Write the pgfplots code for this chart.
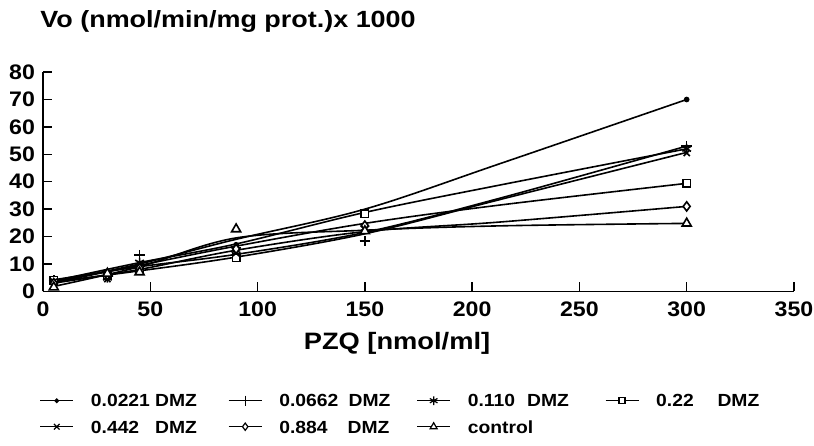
\documentclass[border=0pt]{standalone}
\usepackage{pgfplots}
\pgfplotsset{compat=1.18}
\usepackage{fontspec}
\setmainfont{Liberation Sans}[FakeStretch=1.1]
\newfontfamily\fB{Liberation Sans}[FakeStretch=1.15]
\begin{document}
\begin{tikzpicture}
\begin{axis}[
  scale only axis, width=375pt, height=109.5pt,
  xmin=0, xmax=350, ymin=0, ymax=80,
  axis x line*=bottom, axis y line*=left,
  axis line style={line width=0.75pt, -},
  xtick={0,50,...,350}, ytick={0,10,...,80},
  tick align=inside,
  major tick length=4.5pt,
  tick style={black, line width=0.75pt},
  /pgf/number format/assume math mode=true,
  tick label style={font=\bfseries\fontsize{10.5}{12}\selectfont},
  xticklabel style={yshift=-1.5pt},
  yticklabel style={xshift=-0.5pt},
  clip=false,
  every axis plot/.append style={black, line width=0.8pt},
  legend columns=4,
  legend style={draw=none, fill=none, inner sep=0pt, at={(rel axis cs:-0.005,-0.468)}, anchor=north west,
    font=\bfseries\fontsize{8.76}{10}\selectfont,
    nodes={inner sep=0pt, text height=6.3pt, text depth=0pt},
    cells={anchor=west},
    row sep=6.7pt,
    /tikz/every odd column/.append style={column sep=8.5pt}},
  legend image code/.code={\draw[mark repeat=2,mark phase=2,#1] plot coordinates {(0pt,0pt) (8.25pt,0pt) (16.5pt,0pt)};},
]
% fitted curves
\addplot[smooth, tension=0.55, forget plot] coordinates {(5,3.5) (45,10) (90,19) (150,30) (213,46.6) (300,70)};
\addplot[smooth, tension=0.55, forget plot] coordinates {(5,4.2) (45,9) (90,13.5) (150,21.5) (213,34) (300,53)};
\addplot[smooth, tension=0.55, forget plot] coordinates {(5,3.8) (45,10.5) (90,17.3) (150,28.8) (213,38.8) (300,52)};
\addplot[smooth, tension=0.55, forget plot] coordinates {(5,3.2) (45,9.5) (90,16.5) (150,24.8) (213,31.5) (300,39.4)};
\addplot[smooth, tension=0.55, forget plot] coordinates {(5,3.5) (45,7.5) (90,12.5) (150,21) (213,33.5) (300,50.7)};
\addplot[smooth, tension=0.55, forget plot] coordinates {(5,3) (45,8) (90,15) (150,21.8) (213,25.3) (300,31)};
\addplot[smooth, tension=0.55, forget plot] coordinates {(5,1.8) (45,9) (90,19.5) (150,22.3) (213,23.9) (300,24.8)};
% data points
\addplot[only marks, mark=*, mark size=1pt, forget plot] coordinates {(5,4) (30,6) (45,10) (90,17) (150,29) (300,70)};
\addplot[only marks, mark=+, mark size=2.6pt, forget plot] coordinates {(5,4) (30,5.5) (45,13.2) (90,16) (150,18.3) (300,53)};
\addplot[only marks, mark=asterisk, mark size=2.5pt, forget plot] coordinates {(5,3.5) (30,5) (45,10.5) (90,15) (150,23) (300,52)};
\addplot[only marks, mark=square*, mark size=1.9pt, mark options={fill=white}, forget plot] coordinates {(5,4) (30,6) (45,8) (90,12.3) (150,28.3) (300,39.4)};
\addplot[only marks, mark=x, mark size=2.2pt, forget plot] coordinates {(5,3.5) (30,4.5) (45,9) (90,14) (150,22.5) (300,50.5)};
\addplot[only marks, mark=diamond*, mark size=2.3pt, mark options={fill=white}, forget plot] coordinates {(5,3) (30,6) (45,8.5) (90,15.5) (150,24) (300,31)};
\addplot[only marks, mark=triangle*, mark size=2.6pt, mark options={fill=white}, forget plot] coordinates {(5,1.5) (30,6.5) (45,7) (90,22.7) (150,22) (300,24.8)};
% legend
\addlegendimage{black, line width=0.6pt, mark=*, mark size=0.9pt}
\addlegendentry{\makebox[68.5pt][l]{\makebox[53pt][l]{0.0221\hfill DMZ}}}
\addlegendimage{black, line width=0.6pt, mark=+, mark size=2.5pt}
\addlegendentry{\makebox[68.5pt][l]{\makebox[55.5pt][l]{0.0662\hfill DMZ}}}
\addlegendimage{black, line width=0.6pt, mark=asterisk, mark size=2.2pt}
\addlegendentry{\makebox[68.5pt][l]{\makebox[50.5pt][l]{0.110\hfill DMZ}}}
\addlegendimage{black, line width=0.6pt, mark=square*, mark size=1.5pt, mark options={fill=white}}
\addlegendentry{\makebox[68.5pt][l]{\makebox[51.5pt][l]{0.22\hfill DMZ}}}
\addlegendimage{black, line width=0.6pt, mark=x, mark size=2pt}
\addlegendentry{\makebox[68.5pt][l]{\makebox[53pt][l]{0.442\hfill DMZ}}}
\addlegendimage{black, line width=0.6pt, mark=diamond*, mark size=1.8pt, mark options={fill=white}}
\addlegendentry{\makebox[68.5pt][l]{\makebox[55pt][l]{0.884\hfill DMZ}}}
\addlegendimage{black, line width=0.6pt, mark=triangle*, mark size=2pt, mark options={fill=white}}
\addlegendentry{\makebox[68.5pt][l]{control}}
% texts
\node[anchor=base west, inner sep=0pt, font=\fB\bfseries\fontsize{11.7}{13}\selectfont, xshift=-1.5pt, yshift=22.5pt] at (rel axis cs:0,1) {Vo (nmol/min/mg prot.)x 1000};
\node[anchor=base, inner sep=0pt, font=\fB\bfseries\fontsize{11.85}{13}\selectfont, yshift=-29pt] at (axis cs:165,0) {PZQ [nmol/ml]};
\coordinate (bbsw) at (rel axis cs:-0.0573,-0.7032);
\coordinate (bbne) at (rel axis cs:1.0267,1.3288);
\end{axis}
\pgfresetboundingbox
\path[use as bounding box] (bbsw) rectangle (bbne);
\end{tikzpicture}
\end{document}
